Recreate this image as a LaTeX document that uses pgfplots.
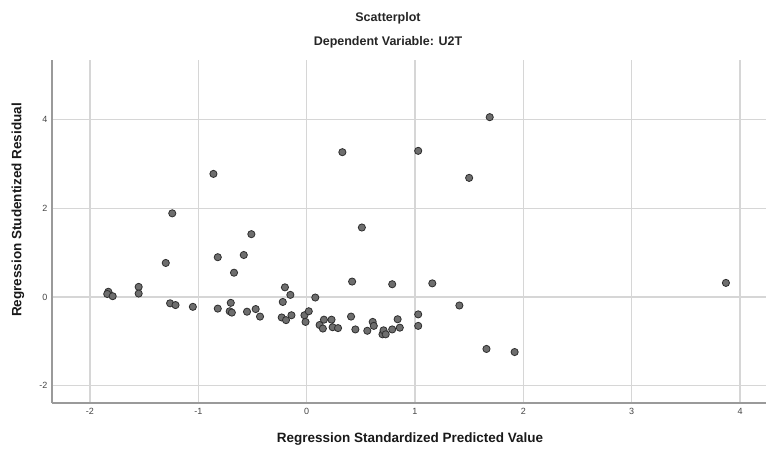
\documentclass[border=0pt]{standalone}
\usepackage{pgfplots}
\pgfplotsset{compat=1.18}
\usepackage{fontspec}
\setmainfont{Liberation Sans}
\definecolor{gridc}{HTML}{D6D6D6}
\definecolor{axisc}{HTML}{9A9A9A}
\definecolor{ptfill}{HTML}{6E6E6E}
\definecolor{ptedge}{HTML}{2E2E2E}
\definecolor{tickc}{HTML}{444444}
\begin{document}
\begin{tikzpicture}[x=1pt,y=1pt]
\path[use as bounding box] (0,0) rectangle (766,450);
\begin{axis}[
  at={(52pt,47pt)}, anchor=south west,
  scale only axis, width=714pt, height=343pt,
  xmin=-2.35, xmax=4.24, ymin=-2.39, ymax=5.35,
  axis x line*=bottom, axis y line*=left,
  axis line style={axisc, line width=1.3pt, -},
  xtick={-2,-1,0,1,2,3,4}, ytick={-2,0,2,4},
  major tick length=0pt,
  grid=major,
  major grid style={gridc, line width=1.2pt},
  tick label style={font=\fontsize{9}{10}\selectfont, text=tickc},
  /pgf/number format/assume math mode=true,
  xticklabel style={yshift=-2pt},
  yticklabel style={xshift=-1pt},
  clip=false,
]
\addplot[only marks, mark=*, mark size=3.6pt,
  mark options={fill=ptfill, draw=ptedge, line width=0.8pt}]
  coordinates {
(-1.83,0.12) (-1.84,0.07) (-1.79,0.02) (-1.55,0.23) (-1.55,0.08)
(-1.30,0.77) (-1.24,1.89) (-1.26,-0.14) (-1.21,-0.18) (-1.05,-0.22)
(-0.86,2.78) (-0.82,0.90) (-0.82,-0.26) (-0.70,-0.13) (-0.71,-0.32)
(-0.69,-0.35) (-0.67,0.55) (-0.58,0.95) (-0.55,-0.33) (-0.51,1.42)
(-0.47,-0.27) (-0.43,-0.44) (-0.20,0.22) (-0.15,0.05) (-0.22,-0.11)
(-0.23,-0.46) (-0.19,-0.52) (-0.14,-0.41) (-0.02,-0.41) (-0.01,-0.56)
(0.02,-0.32) (0.08,-0.01) (0.12,-0.63) (0.15,-0.71) (0.16,-0.51)
(0.23,-0.51) (0.24,-0.68) (0.29,-0.70) (0.33,3.27) (0.41,-0.44)
(0.42,0.35) (0.45,-0.73) (0.51,1.57) (0.56,-0.76) (0.61,-0.56)
(0.62,-0.65) (0.70,-0.84) (0.71,-0.75) (0.73,-0.84) (0.79,-0.73)
(0.79,0.29) (0.84,-0.50) (0.86,-0.69) (1.03,3.30) (1.03,-0.39)
(1.03,-0.65) (1.16,0.31) (1.41,-0.19) (1.50,2.69) (1.66,-1.17)
(1.69,4.06) (1.92,-1.24) (3.87,0.32)
  };
\end{axis}
\node[font=\bfseries\fontsize{12.5}{14}\selectfont, text=black!85] at (388,432) {Scatterplot};
\node[font=\bfseries\fontsize{12.5}{14}\selectfont, text=black!85] at (388,408) {Dependent Variable: U2T};
\node[font=\bfseries\fontsize{13.5}{15}\selectfont, text=black!90] at (410,11) {Regression Standardized Predicted Value};
\node[font=\bfseries\fontsize{13.5}{15}\selectfont, text=black!90, rotate=90] at (18,240) {Regression Studentized Residual};
\end{tikzpicture}
\end{document}
